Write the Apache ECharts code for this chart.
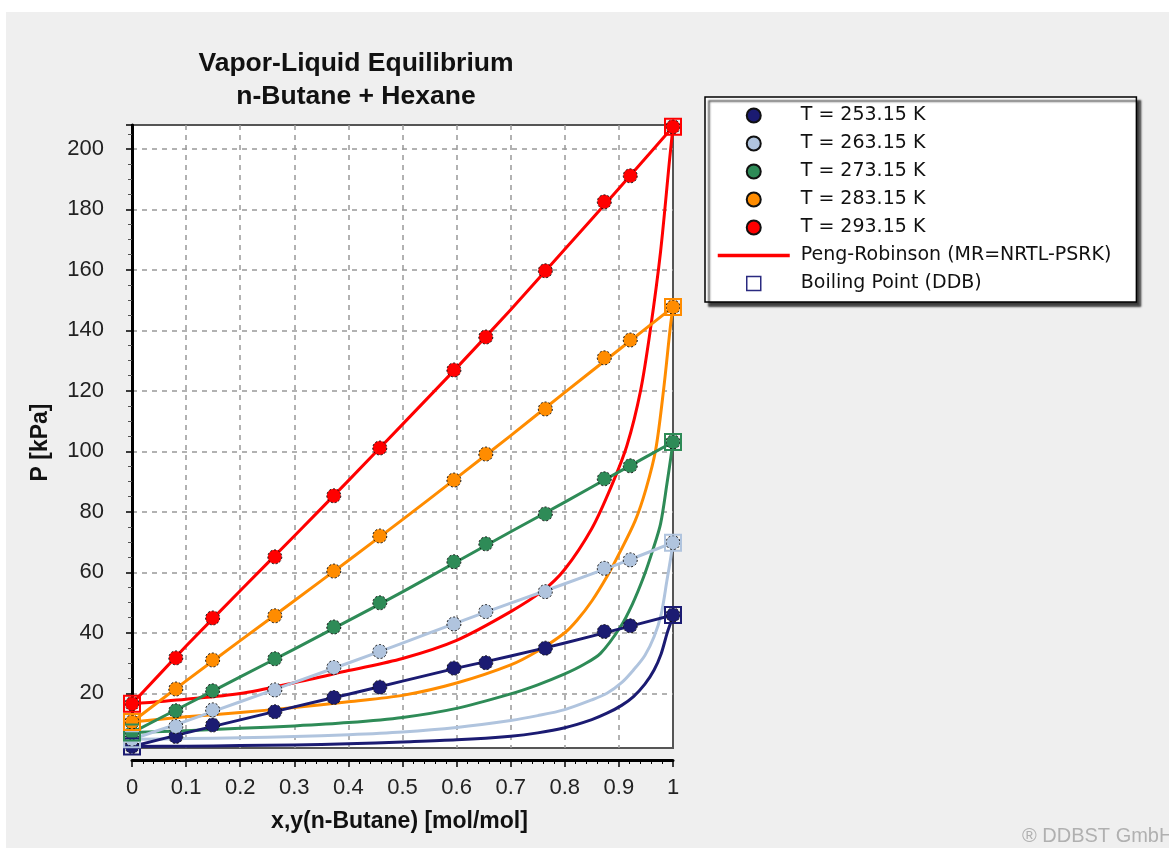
<!DOCTYPE html>
<html><head><meta charset="utf-8">
<script src="https://cdn.jsdelivr.net/npm/echarts@6.0.0/dist/echarts.min.js"></script>
<style>html,body{margin:0;padding:0;background:#fff;overflow:hidden;}#c{position:absolute;left:6px;top:12px;width:1163px;height:836px;}</style>
</head><body><div id="c"></div>
<script>
// ---- data ----
const seriesNames = ['T = 253.15 K', 'T = 263.15 K', 'T = 273.15 K', 'T = 283.15 K', 'T = 293.15 K'];
const seriesColors = ['#1b1b72', '#b0c4de', '#2e8b57', '#ff8c00', '#ff0000'];
const modelName = 'Peng-Robinson (MR=NRTL-PSRK)';
const boilName = 'Boiling Point (DDB)';

// experimental liquid compositions x(n-Butane)
const xLiquid = [0.081, 0.149, 0.264, 0.373, 0.458, 0.595, 0.654, 0.764, 0.873, 0.921];
const p253 = [5.7, 9.5, 13.9, 18.6, 22.0, 28.3, 30.1, 34.9, 40.4, 42.3];
const p263 = [9.0, 14.5, 21.1, 28.5, 33.8, 42.9, 47.0, 53.6, 61.3, 64.1];
const p273 = [14.2, 20.8, 31.4, 41.9, 49.9, 63.5, 69.4, 79.3, 90.9, 95.2];
const p283 = [21.4, 31.0, 45.6, 60.4, 72.0, 90.5, 99.1, 114.0, 130.9, 136.8];
const p293 = [31.7, 44.9, 65.1, 85.3, 101.1, 126.9, 137.8, 159.7, 182.5, 191.1];

// boiling points of pure components (x = 0 hexane, x = 1 n-butane)
const boilX = [0, 1];
const boilHexane = [2.4, 4.8, 7.0, 10.5, 16.5];
const boilButane = [45.9, 69.8, 103.1, 147.7, 207.3];

// Peng-Robinson bubble curves P(x)
const bubbleX = [0, 0.1, 0.2, 0.3, 0.4, 0.5, 0.6, 0.7, 0.8, 0.9, 1];
const bub253 = [2.4, 6.9, 11.2, 15.5, 19.7, 24.0, 28.3, 32.3, 36.6, 41.2, 45.9];
const bub263 = [4.8, 10.8, 17.2, 23.6, 30.0, 36.6, 43.3, 49.8, 56.2, 62.8, 69.8];
const bub273 = [7.0, 16.2, 25.4, 34.6, 44.0, 53.5, 63.5, 73.4, 83.2, 93.2, 103.1];
const bub283 = [10.5, 24.1, 37.4, 50.6, 63.9, 77.4, 91.2, 105.2, 119.5, 133.6, 147.7];
const bub293 = [16.5, 35.6, 53.9, 72.0, 90.3, 108.9, 127.6, 146.8, 166.8, 186.9, 207.3];

// Peng-Robinson dew curves P(y)
const dewX253 = [0, 0.1, 0.2, 0.3, 0.4, 0.5, 0.6, 0.7, 0.75, 0.8, 0.85, 0.878, 0.905, 0.927, 0.948, 0.965, 0.978, 0.989, 0.996, 1];
const dewP253 = [2.4, 2.5, 2.7, 2.9, 3.3, 3.9, 4.6, 5.8, 6.9, 8.6, 11.3, 13.4, 16.0, 18.9, 23.0, 27.7, 33.0, 39.8, 43.5, 45.9];
const dewX263 = [0, 0.1, 0.2, 0.3, 0.4, 0.5, 0.6, 0.7, 0.75, 0.8, 0.85, 0.878, 0.905, 0.927, 0.948, 0.965, 0.978, 0.989, 0.996, 1];
const dewP263 = [4.8, 5.0, 5.3, 5.7, 6.3, 7.2, 8.7, 11.0, 12.6, 14.6, 17.8, 20.0, 23.5, 27.7, 32.5, 38.7, 46.0, 57.5, 65.0, 69.8];
const dewX273 = [0, 0.1, 0.2, 0.3, 0.4, 0.5, 0.6, 0.7, 0.75, 0.8, 0.835, 0.866, 0.903, 0.925, 0.946, 0.962, 0.977, 0.989, 0.996, 1];
const dewP273 = [7.0, 7.6, 8.4, 9.2, 10.3, 12.0, 15.0, 19.8, 22.8, 26.4, 29.5, 33.2, 42.0, 49.5, 58.6, 67.0, 76.0, 89.5, 98.0, 103.1];
const dewX283 = [0, 0.1, 0.2, 0.3, 0.4, 0.5, 0.6, 0.7, 0.75, 0.8, 0.823, 0.85, 0.878, 0.9, 0.93, 0.95, 0.968, 0.983, 0.995, 1];
const dewP283 = [10.5, 12.2, 13.6, 15.3, 17.2, 19.3, 23.4, 29.4, 34.0, 40.0, 44.2, 50.5, 58.6, 66.0, 77.0, 87.5, 100.5, 121.0, 141.0, 147.7];
const dewX293 = [0, 0.1, 0.2, 0.3, 0.4, 0.5, 0.6, 0.7, 0.76, 0.8, 0.85, 0.885, 0.915, 0.94, 0.958, 0.977, 0.994, 1];
const dewP293 = [16.5, 18.0, 19.9, 23.5, 27.5, 31.5, 37.5, 47.0, 54.0, 61.0, 74.5, 88.0, 102.0, 120.0, 140.0, 166.0, 197.0, 207.3];

const yTickStep = 20;
const xTickStep = 0.1;

// ---- build ----
const expP = [p253, p263, p273, p283, p293];
const bubP = [bub253, bub263, bub273, bub283, bub293];
const dewX = [dewX253, dewX263, dewX273, dewX283, dewX293];
const dewP = [dewP253, dewP263, dewP273, dewP283, dewP293];
const zip = (xs, ys) => xs.map((x, i) => [x, ys[i]]);

const series = [];
// model curves; red first so legend takes red
for (let k = 4; k >= 0; k--) {
  [[zip(bubbleX, bubP[k]), 0.2], [zip(dewX[k], dewP[k]), 0.3]].forEach(([d, sm]) => {
    series.push({
      name: modelName, type: 'line', symbol: 'none', showSymbol: false, smooth: sm, z: 2,
      lineStyle: {color: seriesColors[k], width: 3, join: 'round'}, itemStyle: {color: seriesColors[k]},
      data: d
    });
  });
}
// experimental points
for (let k = 0; k < 5; k++) {
  const d = [[boilX[0], boilHexane[k]]].concat(zip(xLiquid, expP[k]), [[boilX[1], boilButane[k]]]);
  series.push({
    name: seriesNames[k], type: 'scatter', symbol: 'circle', symbolSize: 14, z: 3,
    itemStyle: {color: seriesColors[k], borderColor: '#111', borderWidth: 1, borderType: [2, 2], opacity: 1},
    data: d
  });
}
// boiling points
for (let k = 0; k < 5; k++) {
  series.push({
    name: boilName, type: 'scatter', symbol: 'rect', symbolSize: 16, symbolKeepAspect: true, z: 4,
    itemStyle: {color: 'rgba(0,0,0,0)', borderColor: seriesColors[k], borderWidth: 2, opacity: 1},
    data: [[boilX[0], boilHexane[k]], [boilX[1], boilButane[k]]]
  });
}

const labelFont = {fontFamily: 'Liberation Sans', fontSize: 22, color: '#222'};

const option = {
  backgroundColor: '#efefef',
  animation: false,
  title: [{
    text: 'Vapor-Liquid Equilibrium\nn-Butane + Hexane',
    left: 345, top: 30, textAlign: 'center',
    textStyle: {fontFamily: 'Liberation Sans', fontWeight: 'bold', fontSize: 26.5, lineHeight: 33, color: '#111'}
  }, {
    text: '® DDBST GmbH', left: 1011, top: 809,
    textStyle: {fontFamily: 'Liberation Sans', fontWeight: 'normal', fontSize: 20, color: '#b0b0b0'}
  }],
  legend: {
    orient: 'vertical', left: 699, top: 85,
    padding: [9, 25, 9, 11],
    itemWidth: 72, itemHeight: 14, itemGap: 9,
    symbolKeepAspect: true,
    backgroundColor: '#fff', borderColor: '#000', borderWidth: 1.5,
    shadowColor: 'rgba(40,40,40,0.9)', shadowBlur: 2, shadowOffsetX: 4, shadowOffsetY: 4,
    selectedMode: false,
    textStyle: {fontFamily: 'DejaVu Sans', fontSize: 19, lineHeight: 19, color: '#111', padding: [0, 0, 0, 6]},
    data: seriesNames.map(n => ({name: n, icon: 'circle'})).concat([
      {name: modelName, lineStyle: {color: '#ff0000', width: 3.5}, itemStyle: {color: 'rgba(0,0,0,0)', borderColor: 'rgba(0,0,0,0)', borderWidth: 0}},
      {name: boilName, icon: 'path://M0,0L14,0L14,14L0,14Z', itemStyle: {color: '#fff', borderColor: '#2a2a80', borderWidth: 1.5, borderType: 'solid'}}
    ])
  },
  grid: {
    left: 126, top: 113, width: 541, height: 623,
    show: true, backgroundColor: '#fff', borderColor: '#555', borderWidth: 2
  },
  xAxis: {
    type: 'value', min: 0, max: 1, interval: xTickStep, offset: 12,
    name: 'x,y(n-Butane) [mol/mol]', nameLocation: 'middle', nameGap: 50,
    nameTextStyle: {fontFamily: 'Liberation Sans', fontWeight: 'bold', fontSize: 23, color: '#111', padding: [0, 6, 0, 0]},
    axisLine: {show: true, lineStyle: {color: '#000', width: 3}},
    axisTick: {show: true, length: 7, lineStyle: {color: '#000', width: 1.5}},
    minorTick: {show: true, splitNumber: 5, length: 4, lineStyle: {color: '#000', width: 1}},
    axisLabel: Object.assign({margin: 17}, labelFont),
    splitLine: {show: true, showMinLine: false, showMaxLine: false, lineStyle: {color: '#999', width: 1.5, type: [5, 5]}}
  },
  yAxis: {
    type: 'value', min: 1.9, max: 207.9, splitNumber: 10, minInterval: yTickStep, maxInterval: yTickStep, offset: 14,
    name: 'P [kPa]', nameLocation: 'middle', nameGap: 66,
    nameTextStyle: {fontFamily: 'Liberation Sans', fontWeight: 'bold', fontSize: 23, color: '#111', padding: [0, 12, 0, 0]},
    axisLine: {show: true, lineStyle: {color: '#000', width: 3}},
    axisTick: {show: true, length: 6, lineStyle: {color: '#000', width: 1.5}},
    minorTick: {show: true, splitNumber: 4, length: 4, lineStyle: {color: '#555', width: 1}},
    axisLabel: Object.assign({margin: 14, showMinLabel: false, showMaxLabel: false}, labelFont),
    splitLine: {show: true, showMinLine: false, showMaxLine: false, lineStyle: {color: '#999', width: 1.5, type: [5, 5]}}
  },
  series: series
};
const chart = echarts.init(document.getElementById('c'));
chart.setOption(option);
</script></body></html>
